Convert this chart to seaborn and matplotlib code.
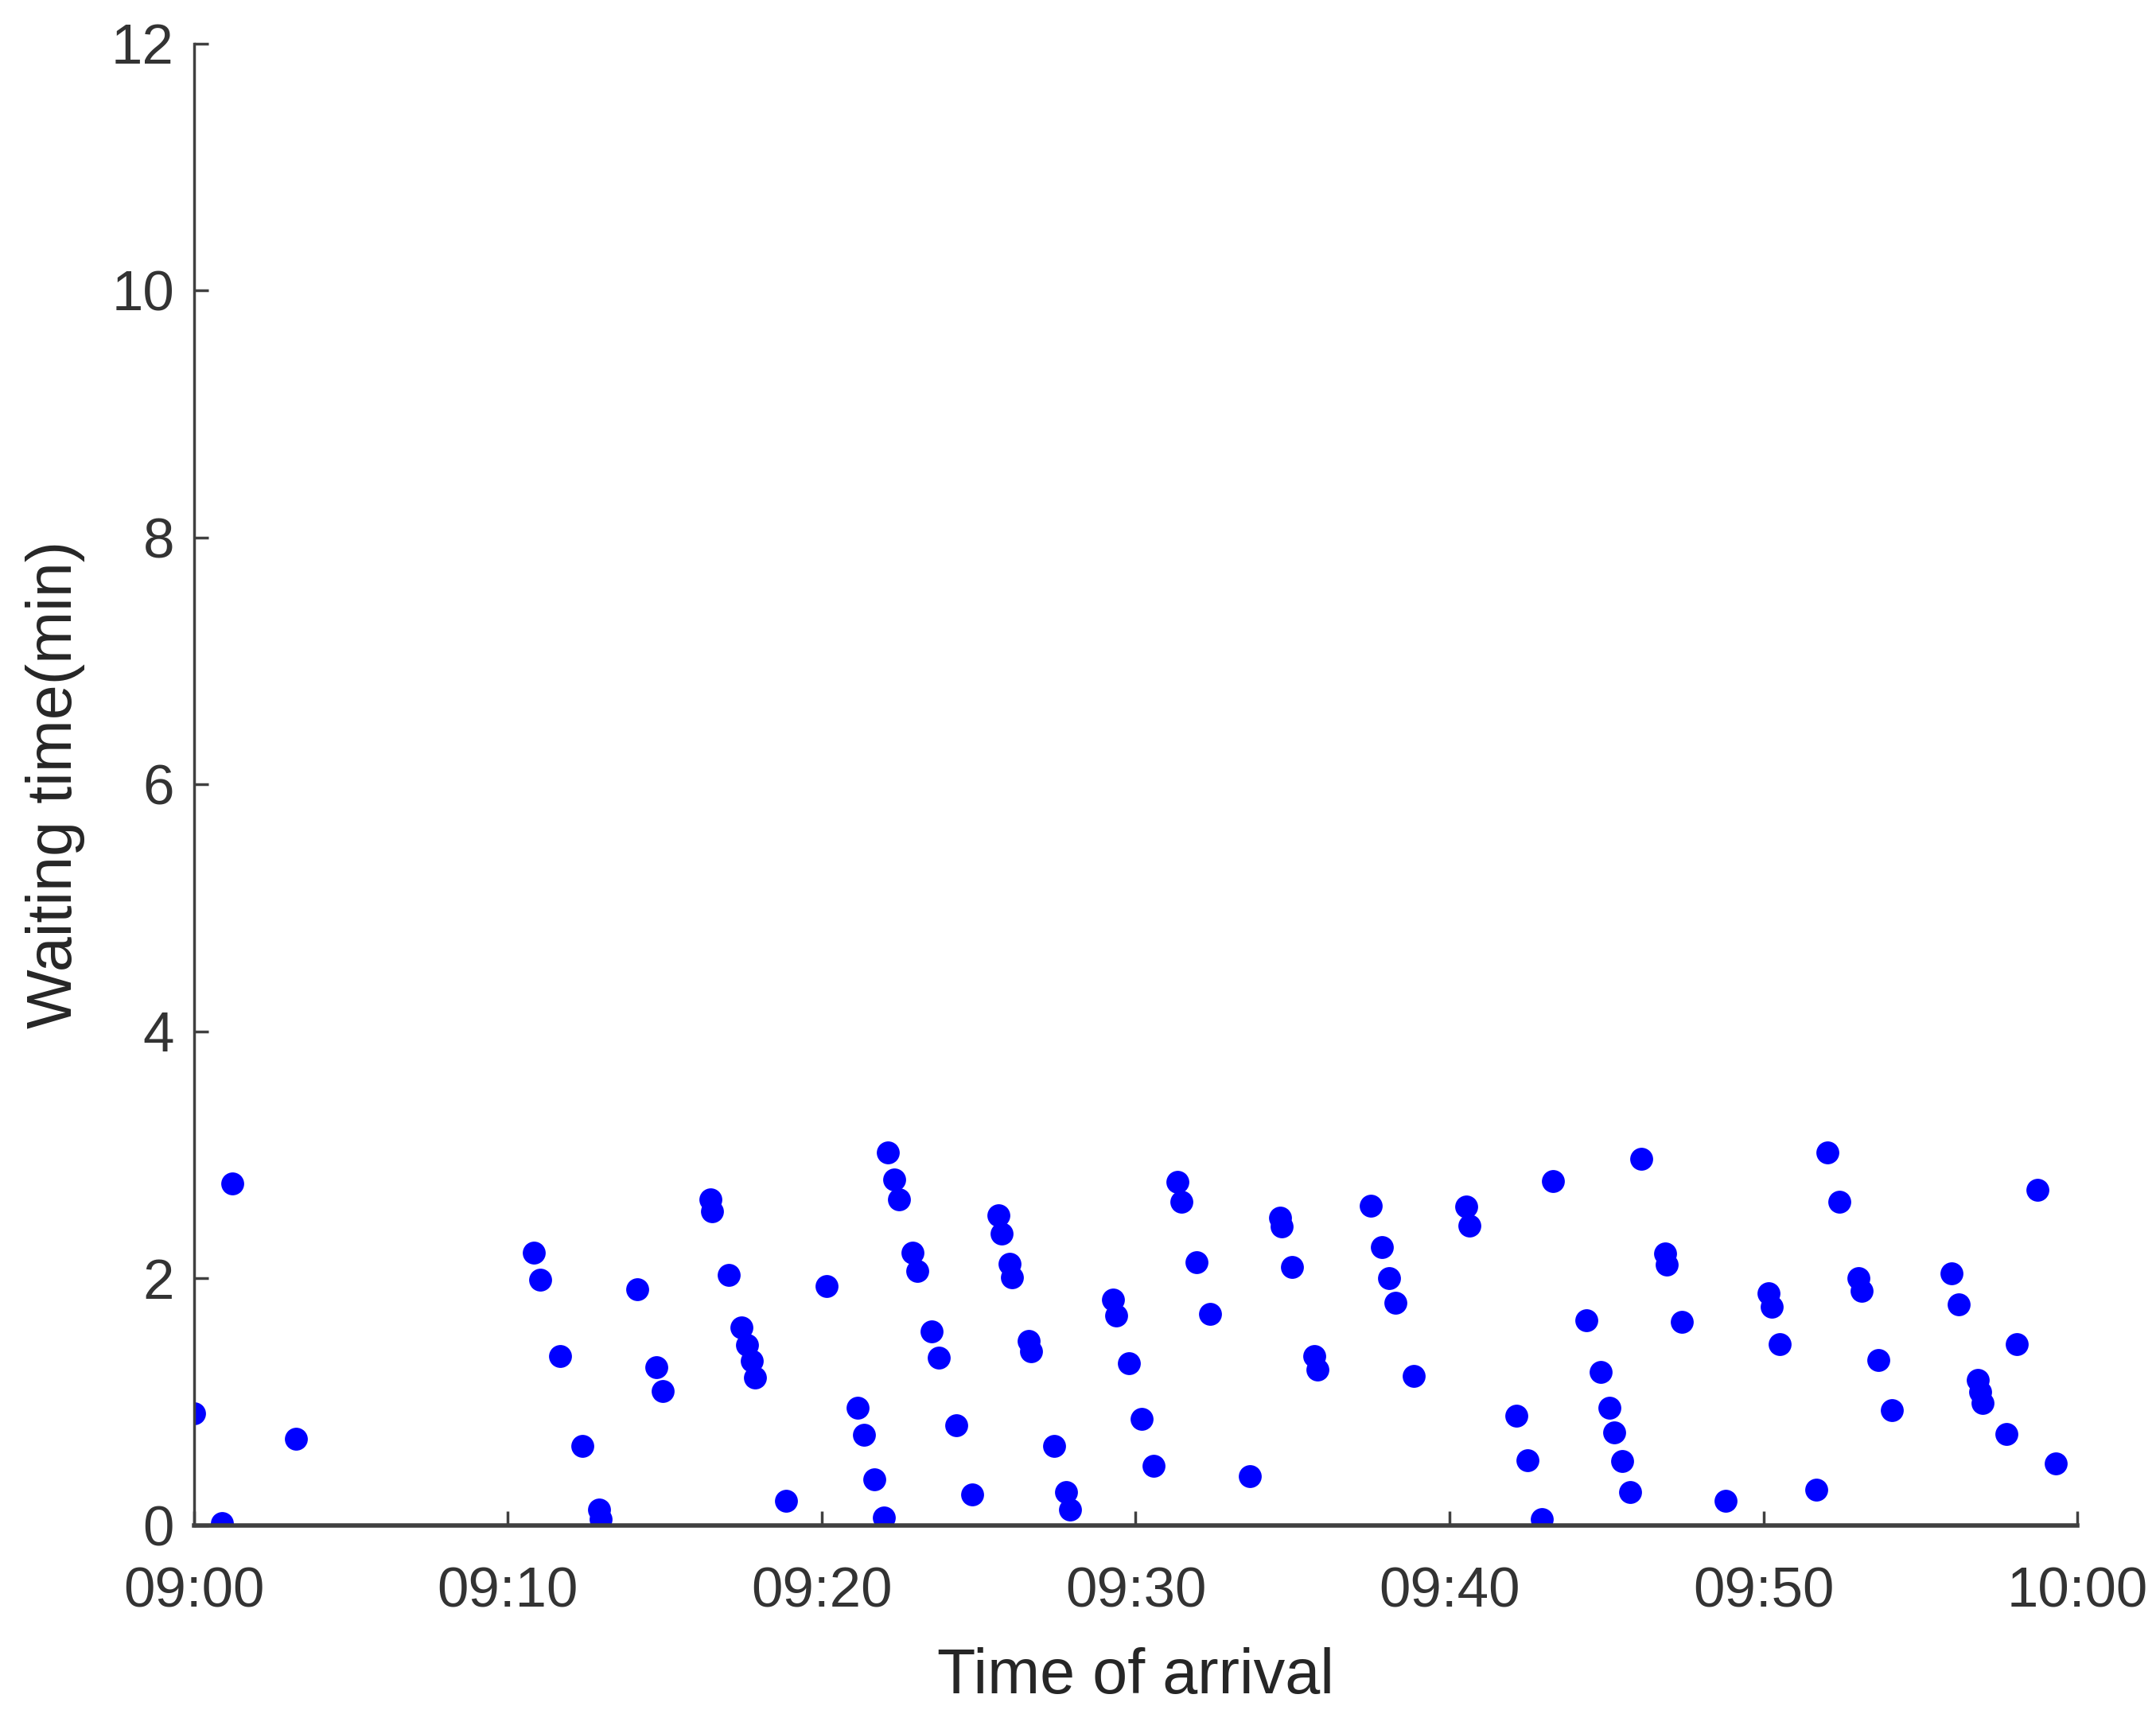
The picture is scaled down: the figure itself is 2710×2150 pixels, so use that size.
import pandas as pd
import matplotlib
matplotlib.use("Agg")
import matplotlib.pyplot as plt
import matplotlib.dates as mdates
import seaborn as sns

# minutes after 09:00 and waiting time (min)
arrival_min = [
    0.00, 0.89, 1.22, 3.25, 10.83, 11.04, 11.65, 12.36, 12.90, 12.96,
    14.13, 14.73, 14.93, 16.44, 16.51, 17.03, 17.44, 17.61, 17.76, 17.86,
    18.86, 20.15, 21.15, 21.34, 21.67, 21.99, 22.10, 22.31, 22.47, 22.90,
    23.05, 23.51, 23.73, 24.28, 24.79, 25.62, 25.73, 25.98, 26.05, 26.60,
    26.66, 27.39, 27.79, 27.90, 29.27, 29.39, 29.78, 30.20, 30.57, 31.34,
    31.47, 31.94, 32.37, 33.64, 34.60, 34.65, 34.98, 35.70, 35.78, 37.50,
    37.84, 38.07, 38.27, 38.87, 40.52, 40.64, 42.14, 42.48, 42.95, 43.30,
    44.37, 44.81, 45.10, 45.25, 45.51, 45.76, 46.11, 46.86, 46.93, 47.40,
    48.79, 50.17, 50.26, 50.52, 51.69, 52.03, 52.42, 53.04, 53.13, 53.67,
    54.08, 55.99, 56.23, 56.82, 56.90, 56.97, 57.73, 58.07, 58.74, 59.31,
]
waiting_min = [
    0.91, 0.02, 2.77, 0.70, 2.21, 1.99, 1.37, 0.64, 0.13, 0.05,
    1.91, 1.28, 1.09, 2.64, 2.54, 2.03, 1.60, 1.46, 1.33, 1.20,
    0.20, 1.94, 0.95, 0.73, 0.37, 0.06, 3.02, 2.80, 2.64, 2.21,
    2.06, 1.57, 1.36, 0.81, 0.25, 2.51, 2.36, 2.12, 2.01, 1.49,
    1.41, 0.64, 0.27, 0.13, 1.83, 1.70, 1.31, 0.86, 0.48, 2.78,
    2.62, 2.13, 1.71, 0.40, 2.49, 2.42, 2.09, 1.37, 1.26, 2.59,
    2.25, 2.00, 1.80, 1.21, 2.58, 2.43, 0.89, 0.53, 0.05, 2.79,
    1.66, 1.24, 0.95, 0.75, 0.52, 0.27, 2.97, 2.20, 2.11, 1.65,
    0.20, 1.88, 1.77, 1.47, 0.29, 3.02, 2.62, 2.00, 1.90, 1.34,
    0.93, 2.04, 1.79, 1.18, 1.08, 0.99, 0.74, 1.47, 2.72, 0.50,
]
start = pd.Timestamp("2020-01-01 09:00")
end = pd.Timestamp("2020-01-01 10:00")

df = pd.DataFrame({
    "arrival": start + pd.to_timedelta(arrival_min, unit="min"),
    "waiting": waiting_min,
})

sns.set_theme(style="white")
plt.rcParams["font.family"] = ["Liberation Sans", "DejaVu Sans"]

axis_col = "#404040"
fig = plt.figure(figsize=(27.1, 21.5), dpi=100)
ax = fig.add_axes([0.090, 0.108, 0.8735, 0.8665])

sns.scatterplot(data=df, x="arrival", y="waiting", color="#0000ff",
                s=430, linewidth=0, ax=ax)

ax.set_xlim(start, end)
ax.set_ylim(0, 12)
ax.set_yticks([0, 2, 4, 6, 8, 10, 12])
ax.xaxis.set_major_locator(mdates.MinuteLocator(byminute=[0, 10, 20, 30, 40, 50]))
ax.xaxis.set_major_formatter(mdates.DateFormatter("%H:%M"))

ax.set_xlabel("Time of arrival", fontsize=57, color="#262626", labelpad=26)
ax.set_ylabel("Waiting time(min)", fontsize=57, color="#262626", labelpad=24)

for side in ["top", "right"]:
    ax.spines[side].set_visible(False)
ax.spines["left"].set_color(axis_col)
ax.spines["left"].set_linewidth(2.5)
ax.spines["bottom"].set_color(axis_col)
ax.spines["bottom"].set_linewidth(4)

ax.tick_params(axis="both", direction="in", length=13, width=2.5,
               color=axis_col, labelsize=51, labelcolor="#333333",
               bottom=True, left=True)
ax.tick_params(axis="x", pad=37)
ax.tick_params(axis="y", pad=18)

fig.savefig("out.png", dpi=100)
